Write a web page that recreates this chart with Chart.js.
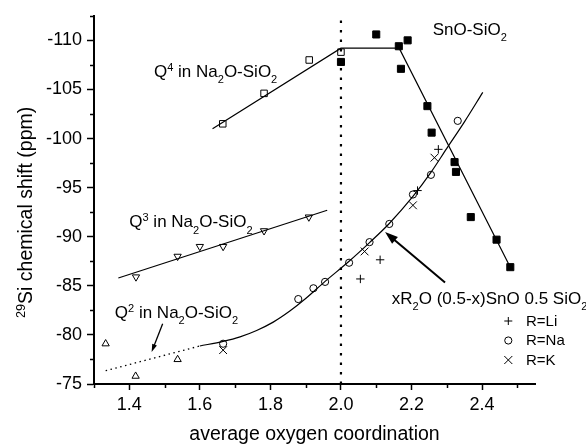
<!DOCTYPE html>
<html>
<head>
<meta charset="utf-8">
<script src="https://cdn.jsdelivr.net/npm/chart.js@4.4.0/dist/chart.umd.min.js"></script>
<style>
  body { margin: 0; background: #fff; }
  canvas { display: block; }
</style>
</head>
<body>
<canvas id="shiftChart" width="586" height="445"></canvas>
<script>
// axis ticks
var xTicks = [1.4, 1.6, 1.8, 2.0, 2.2, 2.4];
var xMinor = [1.3, 1.5, 1.7, 1.9, 2.1, 2.3, 2.5];
var yTicks = [-75, -80, -85, -90, -95, -100, -105, -110];
var yMinor = [-77.5, -82.5, -87.5, -92.5, -97.5, -102.5, -107.5, -112.5];

// Q4 in Na2O-SiO2 (open squares)
var q4X = [1.665, 1.782, 1.910, 2.000];
var q4Y = [-101.5, -104.6, -108.0, -108.8];
// SnO-SiO2 (filled squares)
var snoX = [2.000, 2.100, 2.164, 2.189, 2.170, 2.245, 2.257, 2.322, 2.326, 2.368, 2.441, 2.480];
var snoY = [-107.8, -110.6, -109.4, -110.0, -107.1, -103.3, -100.6, -97.6, -96.6, -92.0, -89.7, -86.9];
var q4FitX = [1.636, 2.000, 2.165, 2.480];
var q4FitY = [-101.0, -109.2, -109.2, -86.9];
// Q3 in Na2O-SiO2
var q3X = [1.419, 1.537, 1.600, 1.666, 1.782, 1.909];
var q3Y = [-85.9, -88.0, -89.0, -89.0, -90.6, -92.0];
var q3FitX = [1.369, 1.961];
var q3FitY = [-85.8, -92.7];
// Q2 in Na2O-SiO2
var q2X = [1.333, 1.418, 1.537];
var q2Y = [-79.1, -75.8, -77.5];
var q2DotX = [1.333, 1.600];
var q2DotY = [-76.35, -78.87];
// xR2O (0.5-x)SnO 0.5 SiO2
var liX = [2.055, 2.111, 2.217, 2.276];
var liY = [-85.7, -87.65, -94.7, -98.9];
var naX = [1.666, 1.879, 1.922, 1.955, 2.023, 2.081, 2.137, 2.204, 2.255, 2.331];
var naY = [-79.1, -83.65, -84.75, -85.4, -87.35, -89.45, -91.3, -94.3, -96.3, -101.8];
var kX = [1.666, 2.067, 2.204, 2.265];
var kY = [-78.45, -88.5, -93.2, -98.05];
var fitX = [1.600, 1.666, 1.714, 1.761, 1.808, 1.856, 1.900, 1.955, 2.023, 2.081, 2.137, 2.204, 2.255, 2.300, 2.350, 2.402];
var fitY = [-78.87, -79.34, -79.80, -80.45, -81.30, -82.45, -83.70, -85.45, -87.50, -89.40, -91.35, -94.10, -96.55, -99.00, -101.70, -104.70];
// x = 2.0 boundary
var edgeX = [2.0, 2.0];
var edgeY = [-75, -112.5];

// texts
var q4Label = [['Q'], ['4', 'sup'], [' in Na'], ['2', 'sub'], ['O-SiO'], ['2', 'sub']];
var q3Label = [['Q'], ['3', 'sup'], [' in Na'], ['2', 'sub'], ['O-SiO'], ['2', 'sub']];
var q2Label = [['Q'], ['2', 'sup'], [' in Na'], ['2', 'sub'], ['O-SiO'], ['2', 'sub']];
var snoLabel = [['SnO-SiO'], ['2', 'sub']];
var mixLabel = [['xR'], ['2', 'sub'], ['O (0.5-x)SnO 0.5 SiO'], ['2', 'sub']];
var legendNames = ['R=Li', 'R=Na', 'R=K'];
var xTitle = [['average oxygen coordination']];
var yTitle = [['29', 'sup'], ['Si chemical shift (ppm)']];

var FONT = '"Liberation Sans", Arial, sans-serif';
Chart.defaults.font.family = FONT;
Chart.defaults.color = '#000';

function pts(xs, ys) {
    return xs.map(function (x, i) { return {x: x, y: ys[i]}; });
}

function markers(xs, ys, style, r, filled, rot) {
    return {
        data: pts(xs, ys), showLine: false, pointStyle: style, pointRadius: r,
        rotation: rot || 0, borderColor: '#000', borderWidth: 1,
        backgroundColor: filled ? '#000' : 'rgba(0,0,0,0)', clip: false
    };
}

function line(xs, ys, width, dash, smooth) {
    return {
        data: pts(xs, ys), showLine: true, pointRadius: 0, borderColor: '#000',
        borderWidth: width, borderDash: dash || [], fill: false,
        cubicInterpolationMode: smooth ? 'monotone' : 'default'
    };
}

function drawRich(ctx, parts, x, y, size, measureOnly) {
    var cx = x;
    parts.forEach(function (p) {
        var small = p[1] === 'sup' || p[1] === 'sub';
        ctx.font = (small ? size * 0.65 : size) + 'px ' + FONT;
        var dy = p[1] === 'sup' ? -size * 0.36 : (p[1] === 'sub' ? size * 0.36 : 0);
        if (!measureOnly) ctx.fillText(p[0], cx, y + dy);
        cx += ctx.measureText(p[0]).width;
    });
    return cx - x;
}

function arrow(ctx, x1, y1, x2, y2, lw, hl, hw) {
    var a = Math.atan2(y2 - y1, x2 - x1);
    ctx.lineWidth = lw;
    ctx.beginPath();
    ctx.moveTo(x1, y1);
    ctx.lineTo(x2 - Math.cos(a) * hl * 0.8, y2 - Math.sin(a) * hl * 0.8);
    ctx.stroke();
    ctx.beginPath();
    ctx.moveTo(x2, y2);
    ctx.lineTo(x2 - Math.cos(a) * hl + Math.sin(a) * hw / 2, y2 - Math.sin(a) * hl - Math.cos(a) * hw / 2);
    ctx.lineTo(x2 - Math.cos(a) * hl - Math.sin(a) * hw / 2, y2 - Math.sin(a) * hl + Math.cos(a) * hw / 2);
    ctx.closePath();
    ctx.fill();
}

var extras = {
    id: 'extras',
    afterDraw: function (chart) {
        var ctx = chart.ctx, xs = chart.scales.x, ys = chart.scales.y, area = chart.chartArea;
        ctx.save();
        ctx.fillStyle = '#000';
        ctx.strokeStyle = '#000';

        // minor ticks
        ctx.lineWidth = 1.5;
        ctx.beginPath();
        xMinor.forEach(function (v) {
            var p = Math.round(xs.getPixelForValue(v)) + 0.5;
            ctx.moveTo(p, area.bottom);
            ctx.lineTo(p, area.bottom + 4);
        });
        yMinor.forEach(function (v) {
            var p = Math.round(ys.getPixelForValue(v)) + 0.5;
            ctx.moveTo(area.left, p);
            ctx.lineTo(area.left - 4, p);
        });
        ctx.stroke();

        // annotations
        ctx.textBaseline = 'alphabetic';
        ctx.textAlign = 'left';
        drawRich(ctx, q4Label, xs.getPixelForValue(1.470), ys.getPixelForValue(-106.3), 17);
        drawRich(ctx, q3Label, xs.getPixelForValue(1.400), ys.getPixelForValue(-90.95), 17);
        drawRich(ctx, q2Label, xs.getPixelForValue(1.359), ys.getPixelForValue(-81.73), 17);
        drawRich(ctx, snoLabel, xs.getPixelForValue(2.260), ys.getPixelForValue(-110.57), 17);
        drawRich(ctx, mixLabel, xs.getPixelForValue(2.144), ys.getPixelForValue(-83.15), 17);

        arrow(ctx, xs.getPixelForValue(1.4946), ys.getPixelForValue(-81.13),
            xs.getPixelForValue(1.4634), ys.getPixelForValue(-78.26), 1.3, 8, 5);
        arrow(ctx, xs.getPixelForValue(2.295), ys.getPixelForValue(-85.33),
            xs.getPixelForValue(2.125), ys.getPixelForValue(-90.48), 2, 13, 9);

        // legend
        var lx = area.right - 26.7;
        var rows = [area.bottom - 63, area.bottom - 43.5, area.bottom - 24];
        ctx.lineWidth = 1;
        ctx.beginPath();
        ctx.moveTo(lx - 4, rows[0]); ctx.lineTo(lx + 4, rows[0]);
        ctx.moveTo(lx, rows[0] - 4); ctx.lineTo(lx, rows[0] + 4);
        ctx.stroke();
        ctx.beginPath();
        ctx.arc(lx, rows[1], 3.6, 0, Math.PI * 2);
        ctx.stroke();
        ctx.beginPath();
        ctx.moveTo(lx - 4, rows[2] - 4); ctx.lineTo(lx + 4, rows[2] + 4);
        ctx.moveTo(lx - 4, rows[2] + 4); ctx.lineTo(lx + 4, rows[2] - 4);
        ctx.stroke();
        ctx.font = '15px ' + FONT;
        ctx.textBaseline = 'middle';
        legendNames.forEach(function (t, i) {
            ctx.fillText(t, lx + 17.7, rows[i] + 0.5);
        });

        // axis titles
        ctx.textBaseline = 'alphabetic';
        var cx = (area.left + area.right) / 2;
        var w = drawRich(ctx, xTitle, 0, 0, 19.5, true);
        drawRich(ctx, xTitle, cx - w / 2, area.bottom + 56, 19.5);
        var cy = (area.top + area.bottom) / 2 + 12.5;
        w = drawRich(ctx, yTitle, 0, 0, 19.5, true);
        ctx.translate(32, cy);
        ctx.rotate(-Math.PI / 2);
        drawRich(ctx, yTitle, -w / 2, 0, 19.5);
        ctx.restore();
    }
};

var ctxx = document.getElementById('shiftChart').getContext('2d');
var myChart = new Chart(ctxx, {
    type: 'scatter',
    data: {
        datasets: [
            markers(q4X, q4Y, 'rect', 4.6, false),
            markers(snoX, snoY, 'rect', 5, true),
            markers(q3X, q3Y, 'triangle', 4.2, false, 180),
            markers(q2X, q2Y, 'triangle', 4.2, false),
            markers(liX, liY, 'cross', 4.2, false),
            markers(naX, naY, 'circle', 3.6, false),
            markers(kX, kY, 'crossRot', 5.5, false),
            line(q4FitX, q4FitY, 1.2),
            line(q3FitX, q3FitY, 1.2),
            line(fitX, fitY, 1.2, null, true),
            line(q2DotX, q2DotY, 1.3, [1.5, 3.5]),
            line(edgeX, edgeY, 2.2, [2.5, 7])
        ]
    },
    options: {
        responsive: false,
        animation: false,
        events: [],
        layout: { padding: { left: 0, top: 13, right: 51, bottom: 0 } },
        plugins: { legend: { display: false }, tooltip: { enabled: false } },
        scales: {
            x: {
                type: 'linear', min: 1.3, max: 2.55,
                afterBuildTicks: function (s) { s.ticks = xTicks.map(function (v) { return {value: v}; }); },
                afterFit: function (s) { s.height = 61; },
                grid: { drawOnChartArea: false, drawTicks: true, tickLength: 6, tickWidth: 1.5, tickColor: '#000' },
                border: { display: true, color: '#000', width: 2 },
                ticks: {
                    color: '#000', font: { size: 18 }, padding: 4, maxRotation: 0, autoSkip: false,
                    callback: function (v) { return v.toFixed(1); }
                }
            },
            y: {
                type: 'linear', min: -112.5, max: -75, reverse: true,
                afterBuildTicks: function (s) { s.ticks = yTicks.map(function (v) { return {value: v}; }); },
                afterFit: function (s) { s.width = 94; },
                grid: { drawOnChartArea: false, drawTicks: true, tickLength: 7, tickWidth: 1.5, tickColor: '#000' },
                border: { display: true, color: '#000', width: 2 },
                ticks: {
                    color: '#000', font: { size: 18 }, padding: 5, autoSkip: false,
                    callback: function (v) { return String(v); }
                }
            }
        }
    },
    plugins: [extras]
});
</script>
</body>
</html>
